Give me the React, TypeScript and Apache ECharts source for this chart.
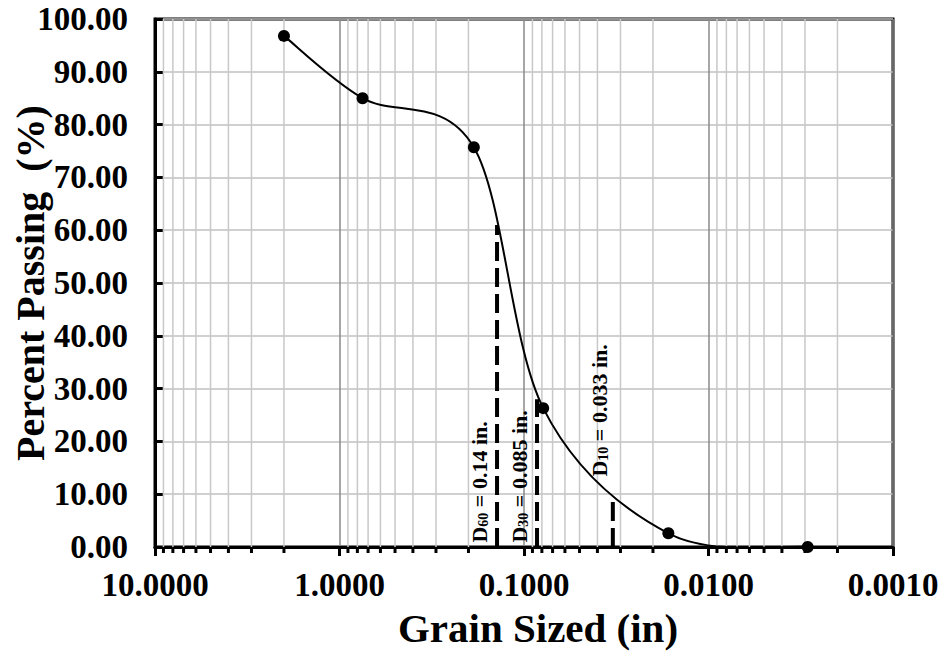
import React, { useEffect, useRef } from 'react';
import * as echarts from 'echarts';

// Sieve sizes (in) and percent passing
const sieveSizes = [2.0, 0.75, 0.187, 0.0787, 0.0165, 0.0029];
const percentPassing = [96.8, 85.0, 75.7, 26.3, 2.6, 0];

// Characteristic diameters
const dSubscripts = ['60', '30', '10'];
const dSizes = [0.14, 0.085, 0.033];
const dSizeText = ['0.14', '0.085', '0.033'];
const dPercentAtCurve = [61, 28, 9.3];
const dLabelBase = [0, 0, 12.5];

// Log axis structure
const decades = [0.001, 0.01, 0.1, 1];
const minorMultipliers = [2, 3, 4, 5, 6, 7, 8, 9];

const FONT = '"Liberation Serif", "Times New Roman", serif';

export default function App() {
  const ref = useRef<HTMLDivElement>(null);

  useEffect(() => {
    if (!ref.current) return;
    const chart = echarts.init(ref.current, null, { renderer: 'svg' });

    const minorValues = decades.flatMap((d) =>
      minorMultipliers.map((m) => [Number((d * m).toPrecision(3)), 0])
    );
    const points = sieveSizes.map((x, i) => [x, percentPassing[i]]);
    const n = points.length;

    const dashedSeries = dSizes.map((x, i) => ({
      type: 'line',
      data: [
        [x, 0],
        [x, dPercentAtCurve[i]],
      ],
      symbol: 'none',
      silent: true,
      z: 3,
      lineStyle: { color: '#000', width: 4, type: [19, 7], opacity: 1 },
    }));

    const labelSeries = {
      type: 'scatter',
      symbol: 'circle',
      symbolSize: 1,
      itemStyle: { color: 'rgba(0,0,0,0)', opacity: 1 },
      silent: true,
      z: 5,
      data: dSizes.map((x, i) => ({
        value: [x, dLabelBase[i]],
        label: {
          show: true,
          opacity: 1,
          position: [i === 2 ? -2 : -6, -4],
          rotate: 90,
          align: 'left',
          verticalAlign: 'bottom',
          formatter: `{d|D}{s|${dSubscripts[i]}}{d| = ${dSizeText[i]} in.}`,
          rich: {
            d: { fontSize: 22, fontWeight: 'bold', fontFamily: FONT, color: '#000' },
            s: {
              fontSize: 14,
              fontWeight: 'bold',
              fontFamily: FONT,
              color: '#000',
              padding: [8, 0, 0, 0],
            },
          },
        },
      })),
    };

    // Smoothed curve (Catmull-Rom style Bezier in pixel space, like a spreadsheet smoothed line)
    const curveSeries = {
      type: 'custom',
      coordinateSystem: 'cartesian2d',
      silent: true,
      clip: true,
      z: 4,
      encode: { x: 0, y: 1 },
      data: points,
      renderItem: (params: any, api: any) => {
        const i = params.dataIndexInside;
        if (i >= n - 1) return null;
        const px = (j: number) => {
          const k = Math.max(0, Math.min(n - 1, j));
          return api.coord([api.value(0, k), api.value(1, k)]);
        };
        const p0 = px(i - 1);
        const p1 = px(i);
        const p2 = px(i + 1);
        const p3 = px(i + 2);
        const t = 1 / 6;
        return {
          type: 'bezierCurve',
          shape: {
            x1: p1[0],
            y1: p1[1],
            cpx1: p1[0] + (p2[0] - p0[0]) * t,
            cpy1: p1[1] + (p2[1] - p0[1]) * t,
            cpx2: p2[0] - (p3[0] - p1[0]) * t,
            cpy2: p2[1] - (p3[1] - p1[1]) * t,
            x2: p2[0],
            y2: p2[1],
          },
          style: { stroke: '#000', lineWidth: 2, fill: null },
        };
      },
    };

    const option = {
      animation: false,
      backgroundColor: '#fff',
      grid: {
        left: 155,
        right: 52,
        top: 19,
        bottom: 106,
        show: true,
        borderColor: '#000',
        borderWidth: 3,
        outerBoundsMode: 'none',
        containLabel: false,
      },
      xAxis: {
        type: 'log',
        logBase: 10,
        min: 0.001,
        max: 10,
        inverse: true,
        name: 'Grain Sized (in)',
        nameLocation: 'middle',
        nameGap: 60,
        nameMoveOverlap: false,
        nameTextStyle: {
          fontSize: 41,
          fontWeight: 'bold',
          fontFamily: FONT,
          color: '#000',
          padding: [0, 0, 0, 28],
        },
        axisLine: { show: true, lineStyle: { color: '#000', width: 3 } },
        axisTick: { show: true, inside: false, length: 9, lineStyle: { color: '#000', width: 3 } },
        axisLabel: {
          formatter: (v: number) => v.toFixed(4),
          fontSize: 33,
          fontWeight: 'bold',
          fontFamily: FONT,
          color: '#000',
          margin: 21,
          showMinLabel: true,
          showMaxLabel: true,
        },
        splitLine: { show: true, lineStyle: { color: '#8a8a8a', width: 1.5 } },
      },
      yAxis: {
        type: 'value',
        min: 0,
        max: 100,
        interval: 10,
        name: 'Percent Passing  (%)',
        nameLocation: 'middle',
        nameGap: 105,
        nameMoveOverlap: false,
        nameTextStyle: {
          fontSize: 40,
          fontWeight: 'bold',
          fontFamily: FONT,
          color: '#000',
        },
        axisLine: { show: true, lineStyle: { color: '#000', width: 3 } },
        axisTick: { show: true, inside: true, length: 8, lineStyle: { color: '#000', width: 3 } },
        axisLabel: {
          formatter: (v: number) => v.toFixed(2),
          fontSize: 33,
          fontWeight: 'bold',
          fontFamily: FONT,
          color: '#000',
          margin: 27,
        },
        splitLine: { show: true, lineStyle: { color: '#c0c0c0', width: 1.5 } },
      },
      series: [
        {
          type: 'custom',
          coordinateSystem: 'cartesian2d',
          silent: true,
          z: 1,
          clip: false,
          encode: { x: 0, y: 1 },
          data: minorValues,
          renderItem: (params: any, api: any) => {
            const x = api.value(0);
            const bot = api.coord([x, 0]);
            const top = api.coord([x, 100]);
            return {
              type: 'group',
              children: [
                {
                  type: 'line',
                  shape: { x1: bot[0], y1: top[1], x2: bot[0], y2: bot[1] },
                  style: { stroke: '#c8c8c8', lineWidth: 1.5 },
                },
                {
                  type: 'line',
                  shape: { x1: bot[0], y1: bot[1], x2: bot[0], y2: bot[1] + 6 },
                  style: { stroke: '#000', lineWidth: 3 },
                },
              ],
            };
          },
        },
        ...dashedSeries,
        curveSeries,
        {
          type: 'scatter',
          data: points,
          symbol: 'circle',
          symbolSize: 12,
          z: 6,
          itemStyle: { color: '#000', opacity: 1 },
        },
        labelSeries,
      ],
    };

    chart.setOption(option as any);
    return () => chart.dispose();
  }, []);

  return (
    <div
      ref={ref}
      style={{ position: 'fixed', left: 0, top: 0, width: 945, height: 653, background: '#fff' }}
    />
  );
}
